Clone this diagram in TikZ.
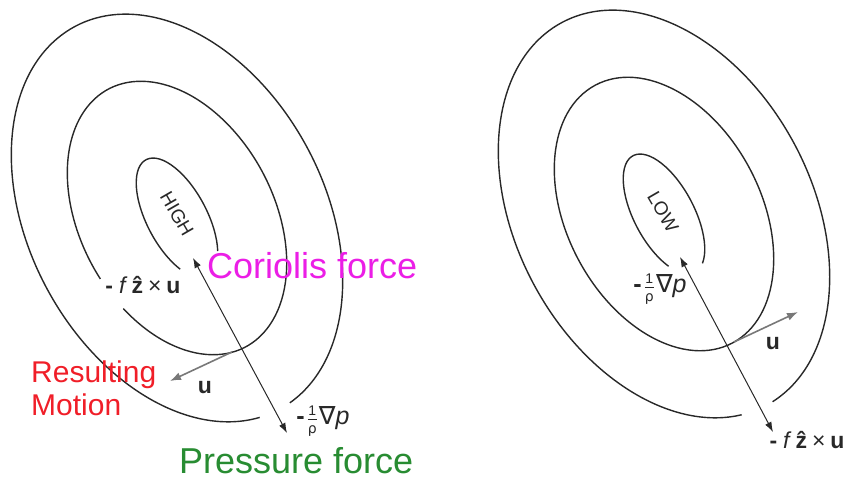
\documentclass[tikz,border=0pt]{standalone}
\usepackage{fontspec}
\setmainfont{Liberation Sans}
\newfontfamily\symbfont{DejaVu Sans}
\usetikzlibrary{arrows.meta}

\definecolor{linegray}{RGB}{40,40,40}
\definecolor{windgray}{RGB}{120,120,120}
\definecolor{coriolis}{RGB}{235,30,230}
\definecolor{motion}{RGB}{240,30,40}
\definecolor{pressure}{RGB}{40,140,50}

\newcommand{\gradterm}{{\bfseries -}\hspace{2pt}$\frac{\mbox{\fontsize{14}{14}\selectfont 1}}{\mbox{\fontsize{14}{14}\selectfont\symbfont ρ}}$\hspace{1pt}{\symbfont ∇}{\itshape p}}

\tikzset{
  isobar/.style={draw=linegray, line width=1.4pt},
  force/.style={draw=linegray, line width=1pt, {Latex[length=10pt,width=7pt]}-{Latex[length=10pt,width=7pt]}},
  wind/.style={draw=windgray, line width=1.6pt, -{Latex[length=11pt,width=8pt]}},
  symb/.style={font=\fontsize{23}{24}\selectfont, text=linegray, inner sep=0pt},
  gradp/.style={font=\fontsize{25}{26}\selectfont, text=linegray, inner sep=0pt},
  centre/.style={font=\fontsize{19}{19}\selectfont, text=linegray, rotate=-60, inner sep=0pt},
  bigword/.style={font=\fontsize{36}{36}\selectfont, anchor=base west, inner sep=0pt}
}

\begin{document}
\begin{tikzpicture}[x=1pt, y=1pt]
  \useasboundingbox (0,-481) rectangle (851,0);

  % high pressure centre
  \begin{scope}[shift={(177,-218)}, rotate=-62]
    \draw[isobar] (43:66pt and 30pt) arc[start angle=43, end angle=315, x radius=66pt, y radius=30pt];
    \draw[isobar] (-68:146pt and 97pt) arc[start angle=-68, end angle=277, x radius=146pt, y radius=97pt];
    \draw[isobar] (5:217pt and 148pt) arc[start angle=5, end angle=352, x radius=217pt, y radius=148pt];
  \end{scope}

  % low pressure centre
  \begin{scope}[shift={(664,-214)}, rotate=-62]
    \draw[isobar] (21:66pt and 30pt) arc[start angle=21, end angle=317, x radius=66pt, y radius=30pt];
    \draw[isobar] (0,0) ellipse[x radius=146pt, y radius=97pt];
    \draw[isobar] (3:217pt and 148pt) arc[start angle=3, end angle=350, x radius=217pt, y radius=148pt];
  \end{scope}

  \node[centre] (high) at (177,-214) {HIGH};
  \node[centre] (low) at (663,-212) {LOW};

  \coordinate (hiC) at (193,-258);
  \coordinate (hiP) at (287,-433);
  \coordinate (hiW) at (232,-352);
  \coordinate (hiU) at (170,-381);
  \draw[force] (hiC) -- (hiP);
  \draw[wind] (hiW) -- (hiU);

  \coordinate (loP) at (680,-257);
  \coordinate (loC) at (773,-432);
  \coordinate (loW) at (734,-342);
  \coordinate (loU) at (798,-312);
  \draw[force] (loP) -- (loC);
  \draw[wind] (loW) -- (loU);

  \node[symb] (hiCorTerm) at (143,-285) {\textbf{-}\hspace{6pt}{\itshape f}\hspace{4pt}\textbf{\^{z}}\hspace{5pt}×\hspace{5pt}\textbf{u}};
  \node[symb] (hiUTerm) at (205,-388) {\textbf{u}};
  \node[gradp] (hiPreTerm) at (323,-421) {\gradterm};

  \node[gradp] (loPreTerm) at (660,-289) {\gradterm};
  \node[symb] (loUTerm) at (773,-344) {\textbf{u}};
  \node[symb] (loCorTerm) at (807,-440) {\textbf{-}\hspace{6pt}{\itshape f}\hspace{4pt}\textbf{\^{z}}\hspace{5pt}×\hspace{5pt}\textbf{u}};

  \node[bigword, text=coriolis] (corLabel) at (207,-278) {Coriolis force};
  \node[bigword, text=pressure] (preLabel) at (179,-473) {Pressure force};
  \node[font=\fontsize{30}{33}\selectfont, text=motion, align=left, anchor=north west, inner sep=0pt] (motLabel) at (31,-361) {Resulting\\Motion};
\end{tikzpicture}
\end{document}
